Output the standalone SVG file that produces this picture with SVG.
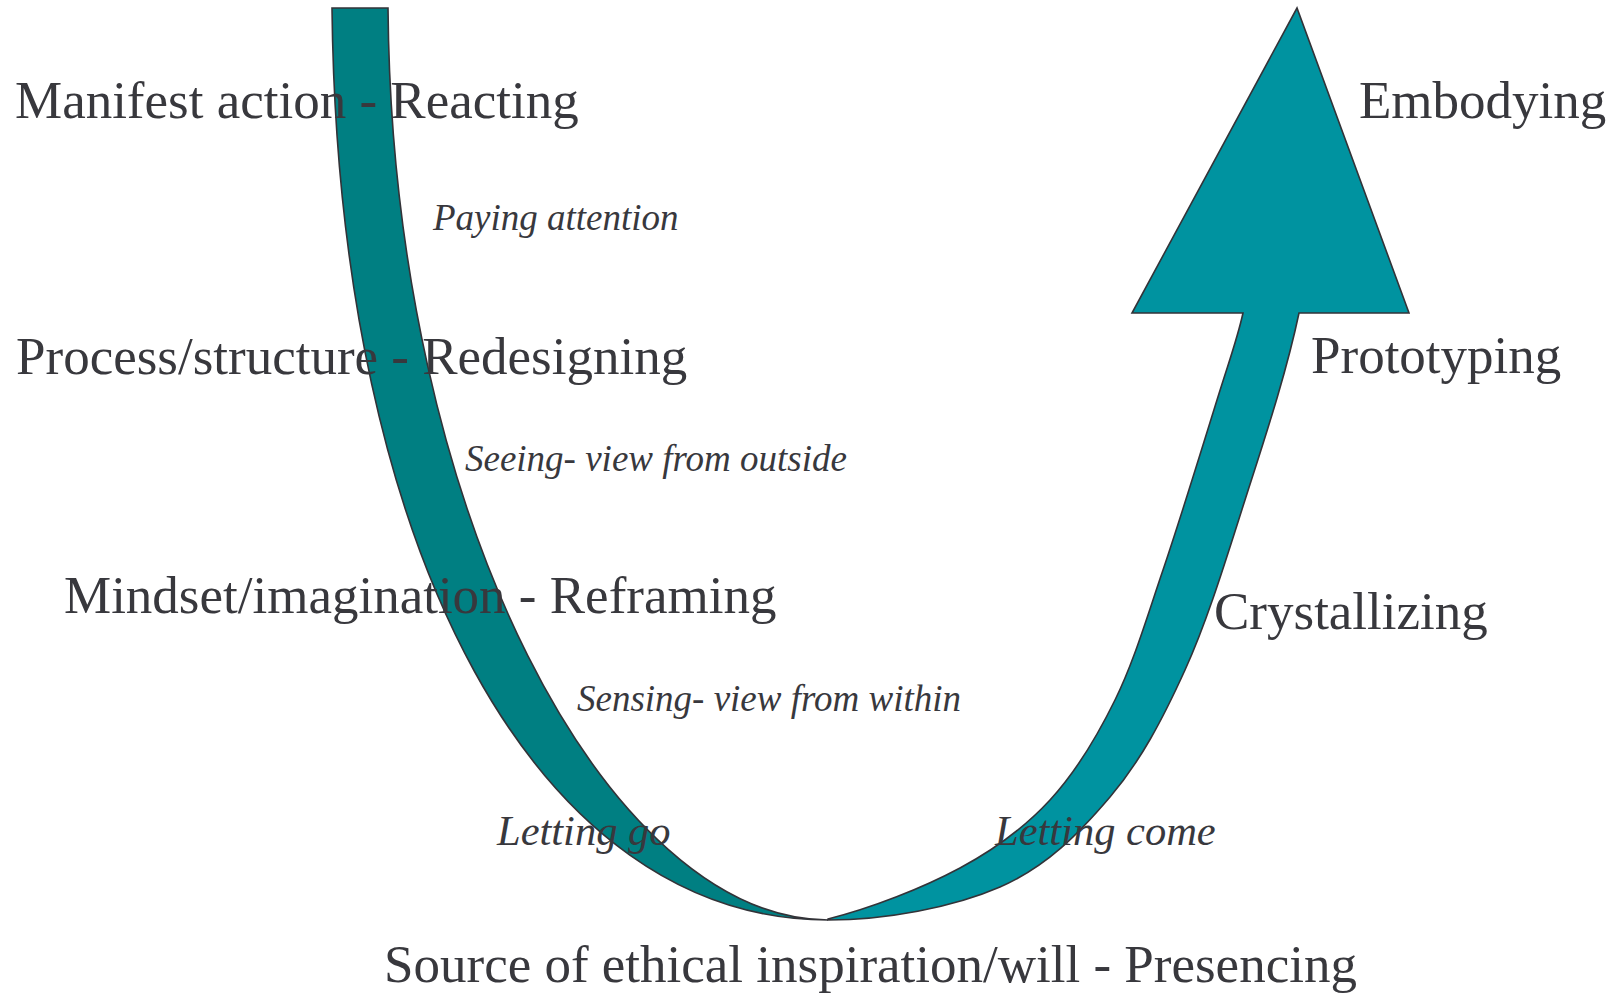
<svg xmlns="http://www.w3.org/2000/svg" width="1621" height="994" viewBox="0 0 1621 994">
<style>
.band{stroke:#333338;stroke-width:1.6;stroke-linejoin:miter}
.left{fill:#007f82}
.right{fill:#0093a0}
.lbl{font-family:"Liberation Serif","Times New Roman",serif;font-size:53px;fill:#38383d}
.it{font-family:"Liberation Serif","Times New Roman",serif;font-size:37px;font-style:italic;fill:#38383d}
.it2{font-family:"Liberation Serif","Times New Roman",serif;font-size:42.5px;font-style:italic;fill:#38383d}
</style>
<rect width="1621" height="994" fill="#ffffff"/>
<g id="connectors">
<path id="down-band" class="band left" d="M332,8 C338,560 540,920 828,920 C610,919 392,520 388,8 Z"/>
<path id="up-arrow" class="band right" d="M828,920 C885,920 953,907.5 1000,887 C1047,866.5 1079.2,833.2 1110,797 C1140.8,760.8 1162.5,719.5 1185,670 C1207.5,620.5 1226,559.5 1245,500 C1264,440.5 1286.4,373.3 1299,313 L1409,313 L1297,8 L1132,313 L1243,313 C1237.3,339.1 1230.3,357.2 1217,400 C1203.7,442.8 1180,520 1163,570 C1146,620 1133.8,661.7 1115,700 C1096.2,738.3 1075.8,772 1050,800 C1024.2,828 997,848.2 960,868 C923,887.8 872,908 828,919 Z"/>
</g>
<g id="node-reacting"><text class="lbl" x="15" y="118">Manifest action - Reacting</text></g>
<g id="node-redesigning"><text class="lbl" x="16" y="374">Process/structure - Redesigning</text></g>
<g id="node-reframing"><text class="lbl" x="64" y="613">Mindset/imagination - Reframing</text></g>
<g id="node-presencing"><text class="lbl" x="384" y="982">Source of ethical inspiration/will - Presencing</text></g>
<g id="node-crystallizing"><text class="lbl" x="1214" y="629">Crystallizing</text></g>
<g id="node-prototyping"><text class="lbl" x="1311" y="373">Prototyping</text></g>
<g id="node-embodying"><text class="lbl" x="1359" y="118">Embodying</text></g>
<g id="label-paying"><text class="it" x="433" y="230">Paying attention</text></g>
<g id="label-seeing"><text class="it" x="465" y="471">Seeing- view from outside</text></g>
<g id="label-sensing"><text class="it" x="577" y="711">Sensing- view from within</text></g>
<g id="label-letting-go"><text class="it2" x="497" y="845">Letting go</text></g>
<g id="label-letting-come"><text class="it2" x="995" y="845">Letting come</text></g>
</svg>
